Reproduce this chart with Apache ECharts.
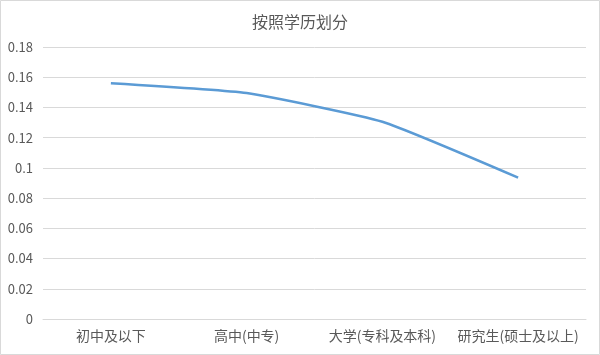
<!DOCTYPE html>
<html>
<head>
<meta charset="utf-8">
<script src="https://cdn.jsdelivr.net/npm/echarts@6/dist/echarts.min.js"></script>
<style>
html,body{margin:0;padding:0;background:#fff;}
#c{width:600px;height:355px;}
</style>
</head>
<body>
<div id="c"></div>
<script>
var titleText = '按照学历划分';
var categories = ['初中及以下', '高中(中专)', '大学(专科及本科)', '研究生(硕士及以上)'];
var values = [0.156, 0.1495, 0.1305, 0.0935];
var yTicks = {min: 0, max: 0.18, interval: 0.02};

var font = '"Noto Sans CJK SC", "Noto Sans", sans-serif';
var chart = echarts.init(document.getElementById('c'));
chart.setOption({
  animation: false,
  backgroundColor: '#fff',
  title: {
    text: titleText,
    left: 'center',
    top: 9,
    textStyle: {fontFamily: font, fontSize: 16, fontWeight: 'normal', color: '#595959'}
  },
  graphic: [{
    type: 'rect',
    shape: {x: 0.5, y: 0.5, width: 599, height: 354},
    style: {fill: 'none', stroke: '#d9d9d9', lineWidth: 1},
    silent: true
  }],
  grid: {left: 43, right: 14, top: 47, bottom: 36, containLabel: false},
  xAxis: {
    type: 'category',
    data: categories,
    boundaryGap: true,
    axisLine: {lineStyle: {color: '#d9d9d9', width: 1}},
    axisTick: {show: false},
    axisLabel: {fontFamily: font, fontSize: 14, color: '#595959', margin: 10, interval: 0}
  },
  yAxis: {
    type: 'value',
    min: yTicks.min,
    max: yTicks.max,
    interval: yTicks.interval,
    axisLine: {show: false},
    axisTick: {show: false},
    splitLine: {lineStyle: {color: '#d9d9d9', width: 1}},
    axisLabel: {
      fontFamily: font, fontSize: 13, color: '#595959', margin: 10,
      formatter: function (v) { return String(parseFloat(v.toFixed(2))); }
    }
  },
  series: [{
    type: 'line',
    data: values,
    smooth: 0.15,
    showSymbol: false,
    symbol: 'none',
    lineStyle: {color: '#5b9bd5', width: 2.5}
  }]
});
</script>
</body>
</html>
